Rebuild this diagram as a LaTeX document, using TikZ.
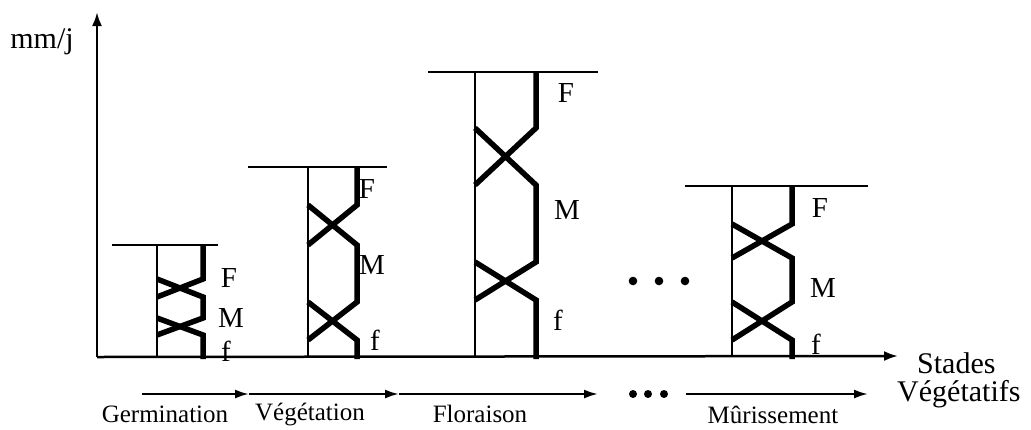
\documentclass[tikz,border=0pt]{standalone}
\usepackage{fontspec}
\setmainfont{Liberation Serif}
\usetikzlibrary{arrows.meta}
\newcommand{\vegbar}[9]{%
  % #1 left x, #2 right x, #3 top y, #4 top line start, #5 top line end,
  % #6 X1 top, #7 X1 bottom, #8 X2 top, #9 X2 bottom
  \draw[thinline] (#4,#3) -- (#5,#3);
  \draw[thinline] (#1,#3) -- (#1,357);
  \draw[thickline] (#2,#3) -- (#2,#6) -- (#1,#7);
  \draw[thickline] (#1,#6) -- (#2,#7) -- (#2,#8) -- (#1,#9);
  \draw[thickline] (#1,#8) -- (#2,#9) -- (#2,359);
}
\begin{document}
\begin{tikzpicture}[x=1bp,y=-1bp,
  thinline/.style={line width=2.5bp},
  thickline/.style={line width=5.5bp,line join=miter},
  axis/.style={line width=2.5bp,-{Latex[length=14bp,width=10bp]}},
  stagearrow/.style={line width=2.2bp,-{Latex[length=14bp,width=9bp]}},
  lab/.style={inner sep=0pt,font=\fontsize{29bp}{34bp}\selectfont},
  small/.style={inner sep=0pt,font=\fontsize{25bp}{30bp}\selectfont},
  dot/.style={fill=black,draw=none}]
\useasboundingbox (0,0) rectangle (1031,429);
% axes
\coordinate (O) at (97,357);
\coordinate (Ytip) at (97,12);
\coordinate (Xtip) at (898,356);
\draw[axis] (O) -- (Ytip);
\draw[axis] (O) -- (Xtip);
\node[lab,font=\fontsize{30bp}{34bp}\selectfont] (ylab) at (42,42) {mm/j};
\node[lab,anchor=west,font=\fontsize{30bp}{34bp}\selectfont] (xlab1) at (917,363) {Stades};
\node[lab,anchor=west,font=\fontsize{30bp}{34bp}\selectfont] (xlab2) at (897,394) {Végétatifs};
% bars
\vegbar{157}{203}{245}{112}{218}{279}{297}{318}{335}
\vegbar{308}{357}{167}{248}{387}{205}{245}{302}{340}
\vegbar{475}{536}{72}{428}{598}{128}{185}{262}{300}
\vegbar{732}{792}{186}{685}{868}{224}{258}{302}{340}
% labels
\node[lab] (F1) at (229,278) {F};
\node[lab] (M1) at (231,318) {M};
\node[lab] (f1) at (226,351) {f};
\node[lab] (F2) at (367,189) {F};
\node[lab] (M2) at (372,265) {M};
\node[lab] (f2) at (375,340) {f};
\node[lab] (F3) at (566,93) {F};
\node[lab] (M3) at (567,210) {M};
\node[lab] (f3) at (558,320) {f};
\node[lab] (F4) at (820,208) {F};
\node[lab] (M4) at (823,288) {M};
\node[lab] (f4) at (816,344) {f};
% dots
\foreach \x in {633,659,685} \fill[dot] (\x,281) circle (4.3bp);
\foreach \x in {633,648,664} \fill[dot] (\x,394) circle (4bp);
% stage arrows
\coordinate (s0) at (142,394);
\coordinate (s1) at (249,394);
\coordinate (s2) at (399,394);
\coordinate (s3) at (598,394);
\coordinate (s4) at (686,394);
\coordinate (s5) at (868,394);
\draw[stagearrow] (s0) -- (s1);
\draw[stagearrow] (s1) -- (s2);
\draw[stagearrow] (s2) -- (s3);
\draw[stagearrow] (s4) -- (s5);
\node[small] (g) at (165,414) {Germination};
\node[small] (v) at (310,414) {Végétation};
\node[small] (fl) at (480,414) {Floraison};
\node[small] (mu) at (773,415) {Mûrissement};
\end{tikzpicture}
\end{document}
